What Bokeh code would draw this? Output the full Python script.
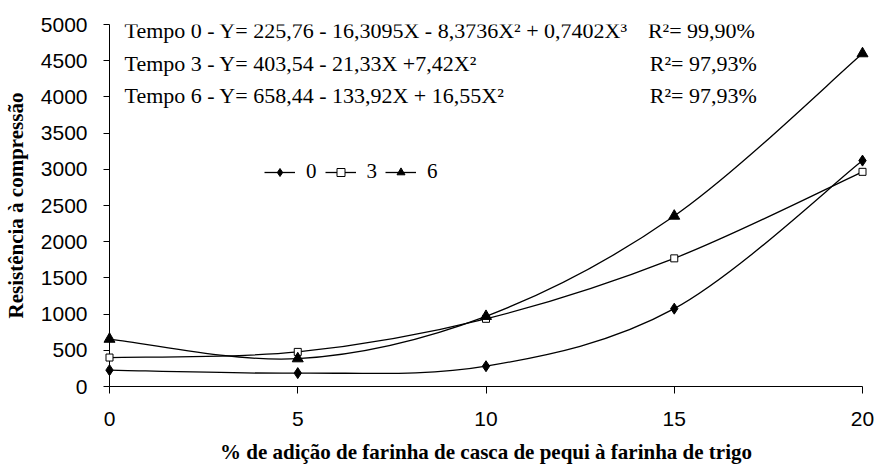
import numpy as np
from bokeh.plotting import figure
from bokeh.models import Range1d, Label, Legend, LegendItem, FixedTicker
from bokeh.embed import file_html
from bokeh.resources import INLINE

# ---- data ----
x_vals = [0, 5, 10, 15, 20]
tempo0 = [226, 185, 280, 1075, 3120]
tempo3 = [400, 478, 935, 1770, 2965]
tempo6 = [655, 385, 970, 2355, 4598]
series_names = ["0", "3", "6"]
x_ticks = [0, 5, 10, 15, 20]
y_ticks = [0, 500, 1000, 1500, 2000, 2500, 3000, 3500, 4000, 4500, 5000]
equations = [
    "Tempo 0 - Y= 225,76 - 16,3095X - 8,3736X\u00b2 + 0,7402X\u00b3",
    "Tempo 3 - Y= 403,54 - 21,33X +7,42X\u00b2",
    "Tempo 6 - Y= 658,44  - 133,92X + 16,55X\u00b2",
]
r2_texts = ["R\u00b2= 99,90%", "R\u00b2= 97,93%", "R\u00b2= 97,93%"]
eq_y = [4918, 4468, 4025]
eq_x = 0.40
r2_x = [14.30, 14.35, 14.35]

x_title = "% de adição de farinha de casca de pequi à farinha de trigo"
y_title = "Resistência à compressão"

SERIF = "Liberation Serif"
SANS = "Liberation Sans"


def smooth_segments(xs, ys):
    """Cubic Bezier control points for a smoothed line (Catmull-Rom style)."""
    xs = np.asarray(xs, float)
    ys = np.asarray(ys, float)
    n = len(xs)
    xp = np.concatenate([[xs[0]], xs, [xs[-1]]])
    yp = np.concatenate([[ys[0]], ys, [ys[-1]]])
    cx0 = xs[:-1] + (xp[2:n + 1] - xp[0:n - 1]) / 6.0
    cy0 = ys[:-1] + (yp[2:n + 1] - yp[0:n - 1]) / 6.0
    cx1 = xs[1:] - (xp[3:n + 2] - xp[1:n]) / 6.0
    cy1 = ys[1:] - (yp[3:n + 2] - yp[1:n]) / 6.0
    return dict(x0=xs[:-1], y0=ys[:-1], x1=xs[1:], y1=ys[1:],
                cx0=cx0, cy0=cy0, cx1=cx1, cy1=cy1)


p = figure(width=878, height=466,
           x_range=Range1d(0, 20), y_range=Range1d(0, 5000),
           output_backend="svg", toolbar_location=None,
           min_border_left=108, min_border_right=16,
           min_border_top=24, min_border_bottom=78)
p.outline_line_color = None
p.grid.visible = False
p.background_fill_color = "white"
p.border_fill_color = "white"

# axes
p.xaxis.ticker = FixedTicker(ticks=x_ticks)
p.yaxis.ticker = FixedTicker(ticks=y_ticks)
for ax in (p.xaxis, p.yaxis):
    ax.axis_line_color = "black"
    ax.axis_line_width = 1
    ax.major_tick_line_color = "black"
    ax.major_tick_in = 0
    ax.minor_tick_line_color = None
    ax.major_label_text_font = SANS
    ax.major_label_text_font_size = "21px"
    ax.major_label_text_color = "black"
    ax.axis_label_text_font = SERIF
    ax.axis_label_text_font_style = "bold"
    ax.axis_label_text_font_size = "21px"
    ax.axis_label_text_color = "black"
p.xaxis.major_tick_out = 7
p.yaxis.major_tick_out = 6
p.xaxis.major_label_standoff = 18
p.yaxis.major_label_standoff = 16
p.xaxis.axis_label = x_title
p.yaxis.axis_label = y_title
p.xaxis.axis_label_standoff = 11
p.yaxis.axis_label_standoff = 10

# series
markers = [
    dict(marker="diamond", size=11, fill_color="black"),
    dict(marker="square", size=7, fill_color="white"),
    dict(marker="triangle", size=11, fill_color="black"),
]
items = []
for name, ys, mk in zip(series_names, [tempo0, tempo3, tempo6], markers):
    seg = smooth_segments(x_vals, ys)
    p.bezier(x0=seg["x0"], y0=seg["y0"], x1=seg["x1"], y1=seg["y1"],
             cx0=seg["cx0"], cy0=seg["cy0"], cx1=seg["cx1"], cy1=seg["cy1"],
             line_color="black", line_width=1.3)
    sr = p.scatter(x=x_vals, y=ys, marker=mk["marker"], size=mk["size"],
                   fill_color=mk["fill_color"], line_color="black",
                   line_width=1, level="overlay")
    # one-point line: draws nothing on the plot, only supplies the legend stroke
    lr = p.line(x=x_vals[:1], y=ys[:1], line_color="black", line_width=1.3)
    items.append(LegendItem(label=name, renderers=[lr, sr]))

legend = Legend(items=items, orientation="horizontal", location=(155, 202),
                padding=0, margin=0, border_line_color=None,
                background_fill_alpha=0, glyph_width=31, glyph_height=20,
                label_standoff=11, spacing=8, label_height=20, label_width=10,
                label_text_font=SERIF, label_text_font_size="21px",
                label_text_color="black")
p.add_layout(legend)

# equations
for txt, yy in zip(equations, eq_y):
    p.add_layout(Label(x=eq_x, y=yy, text=txt, text_font=SERIF,
                       text_font_size="22px", text_color="black",
                       text_baseline="alphabetic", text_align="left"))
for txt, xx, yy in zip(r2_texts, r2_x, eq_y):
    p.add_layout(Label(x=xx, y=yy, text=txt, text_font=SERIF,
                       text_font_size="22px", text_color="black",
                       text_baseline="alphabetic", text_align="left"))

open("out.html", "w").write(file_html(p, INLINE))
